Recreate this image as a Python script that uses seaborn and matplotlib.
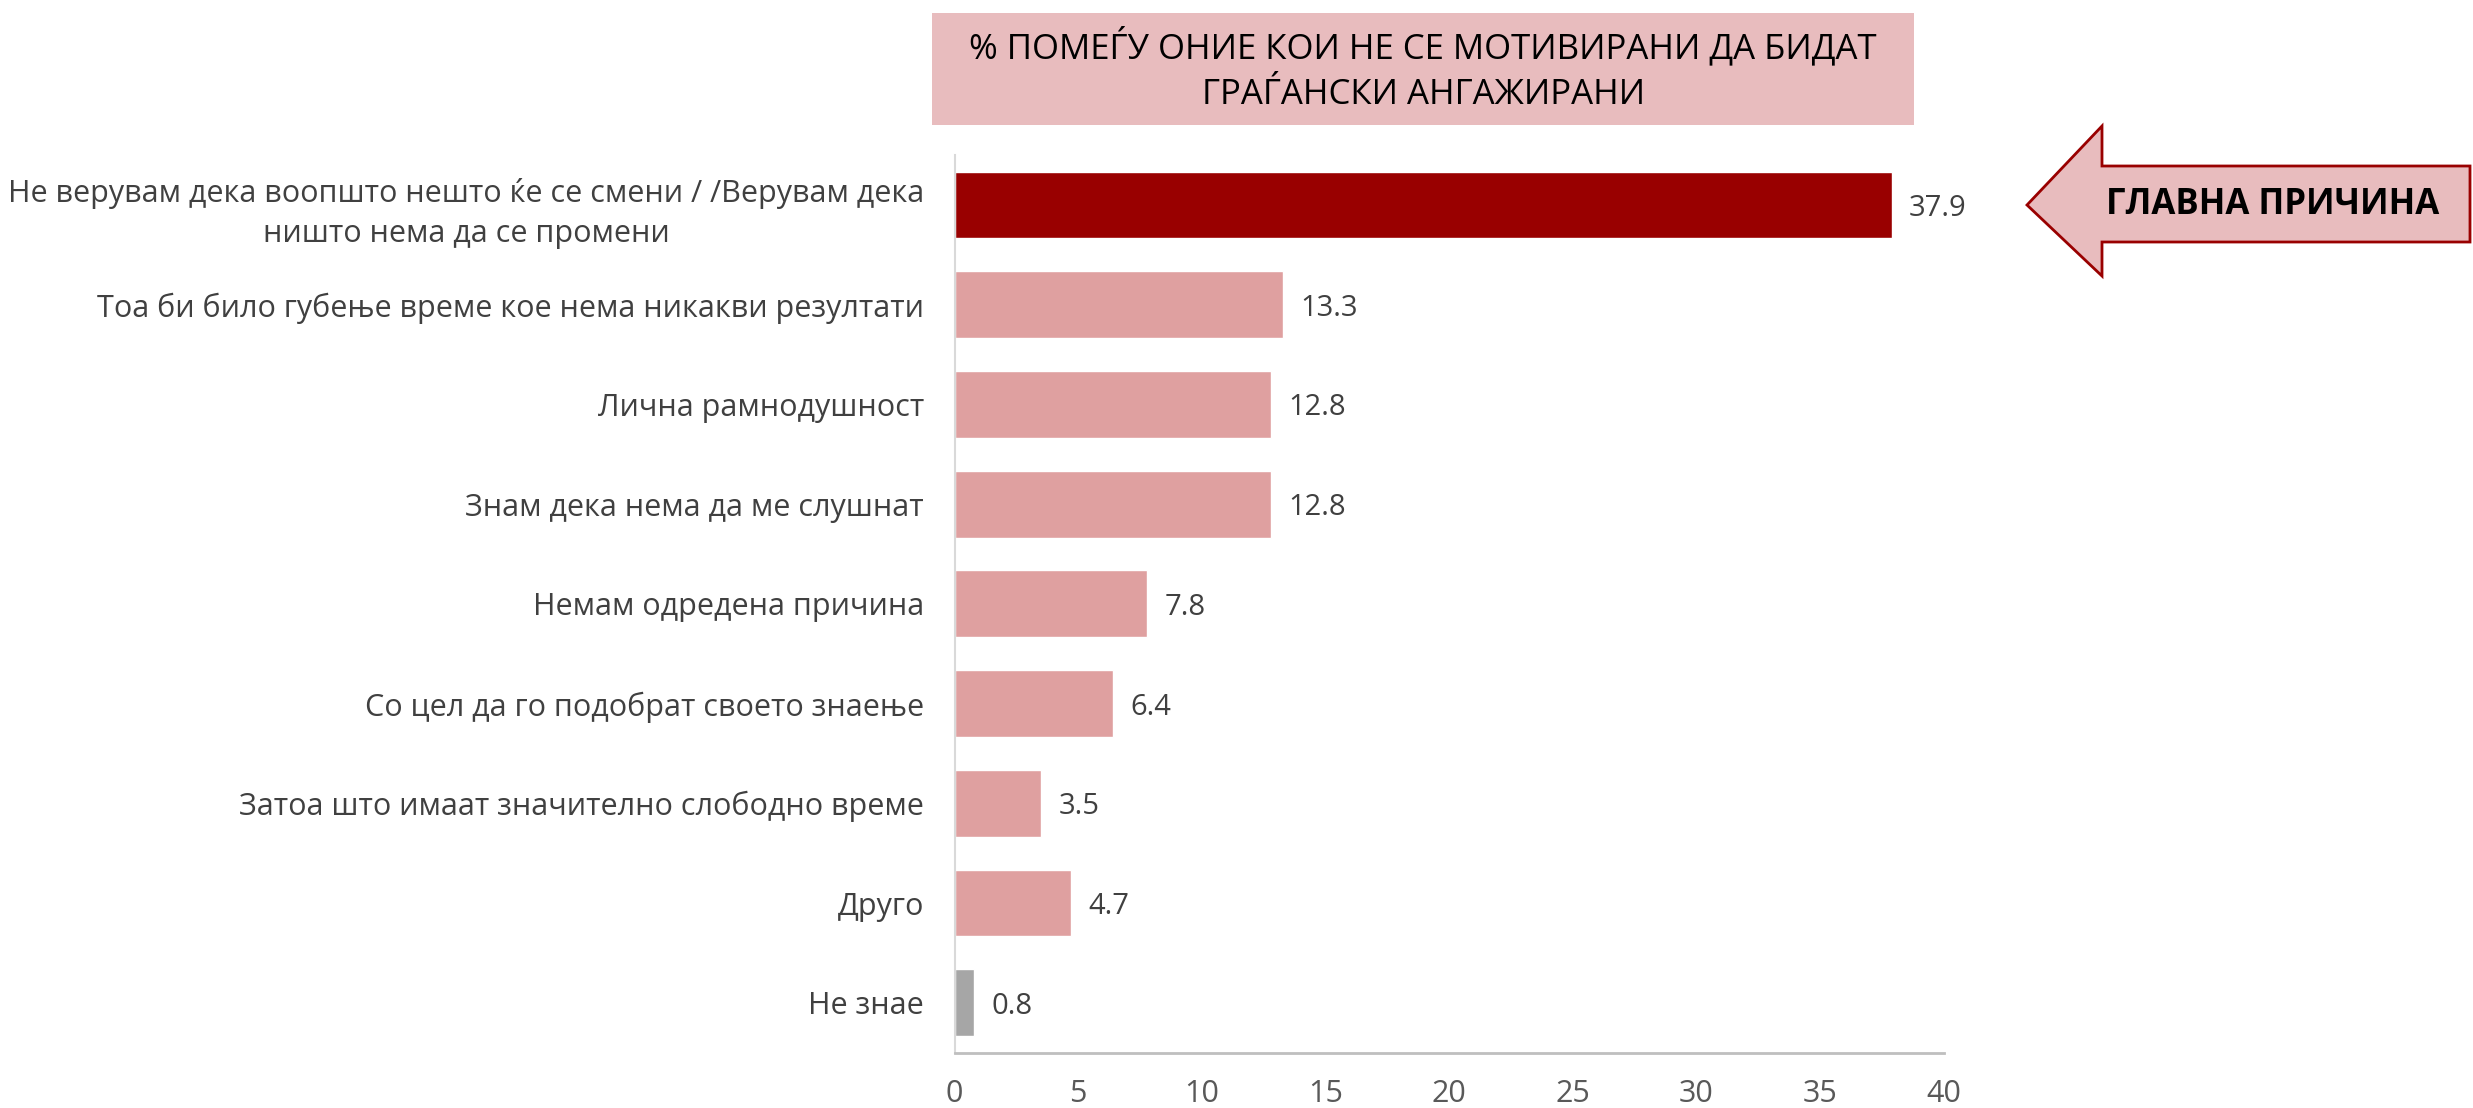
import matplotlib
matplotlib.use("Agg")
import matplotlib.pyplot as plt
import seaborn as sns
from matplotlib import font_manager
from matplotlib.patches import Polygon, Rectangle

categories = [
    "Не верувам дека воопшто нешто ќе се смени / /Верувам дека\nништо нема да се промени",
    "Тоа би било губење време кое нема никакви резултати",
    "Лична рамнодушност",
    "Знам дека нема да ме слушнат",
    "Немам одредена причина",
    "Со цел да го подобрат своето знаење",
    "Затоа што имаат значително слободно време",
    "Друго",
    "Не знае",
]
values = [37.9, 13.3, 12.8, 12.8, 7.8, 6.4, 3.5, 4.7, 0.8]
bar_colors = ["#990000"] + ["#DFA0A0"] * 7 + ["#A6A6A6"]
x_ticks = [0, 5, 10, 15, 20, 25, 30, 35, 40]
title = "% ПОМЕЃУ ОНИЕ КОИ НЕ СЕ МОТИВИРАНИ ДА БИДАТ\nГРАЃАНСКИ АНГАЖИРАНИ"
callout = "ГЛАВНА ПРИЧИНА"

sns.set_style("white")
names = {f.name for f in font_manager.fontManager.ttflist}
narrow = "Liberation Sans Narrow" if "Liberation Sans Narrow" in names else "Open Sans"
plt.rcParams["font.family"] = [narrow, "DejaVu Sans"]

fig = plt.figure(figsize=(24.73, 11.08), dpi=100)
ax = fig.add_axes([0.386, 0.050, 0.400, 0.810])

sns.barplot(x=values, y=categories, hue=categories, palette=bar_colors,
            saturation=1, legend=False, width=0.67, orient="h", ax=ax)

ax.set_xlim(0, 40)
ax.set_xticks(x_ticks)
ax.set_xlabel("")
ax.set_ylabel("")
ax.tick_params(axis="both", length=0)
ax.tick_params(axis="y", labelsize=22, labelcolor="#404040", pad=22)
ax.tick_params(axis="x", labelsize=22, labelcolor="#595959", pad=19)
for t in ax.get_yticklabels():
    t.set_multialignment("center")
    t.set_linespacing(1.45)

for s in ["top", "right"]:
    ax.spines[s].set_visible(False)
ax.spines["left"].set_color("#D9D9D9")
ax.spines["bottom"].set_color("#BFBFBF")
ax.spines["left"].set_linewidth(1.5)
ax.spines["bottom"].set_linewidth(2)

for i, v in enumerate(values):
    ax.text(v + 0.7, i, f"{v:.1f}", va="center_baseline", ha="left", fontsize=21,
            color="#404040", family=["Open Sans", "DejaVu Sans"])

# title box
fig.patches.append(Rectangle((0.377, 0.887), 0.397, 0.101, transform=fig.transFigure,
                             facecolor="#E8BCBE", edgecolor="none"))
fig.text(0.5755, 0.9375, title, ha="center", va="center", fontsize=25,
         color="#000000", linespacing=1.45)

# callout arrow
W, H = 2473, 1108
pts = [(2027, 205), (2102, 126), (2102, 166), (2470, 166),
       (2470, 242), (2102, 242), (2102, 276)]
pts = [(x / W, 1 - y / H) for x, y in pts]
fig.patches.append(Polygon(pts, closed=True, transform=fig.transFigure,
                           facecolor="#E8BCBE", edgecolor="#990000", linewidth=2))
fig.text(2273 / W, 1 - 205 / H, callout, ha="center", va="center", fontsize=25,
         fontweight="bold", color="#000000", family=["Open Sans", "DejaVu Sans"])

fig.savefig("out.png", dpi=100)
